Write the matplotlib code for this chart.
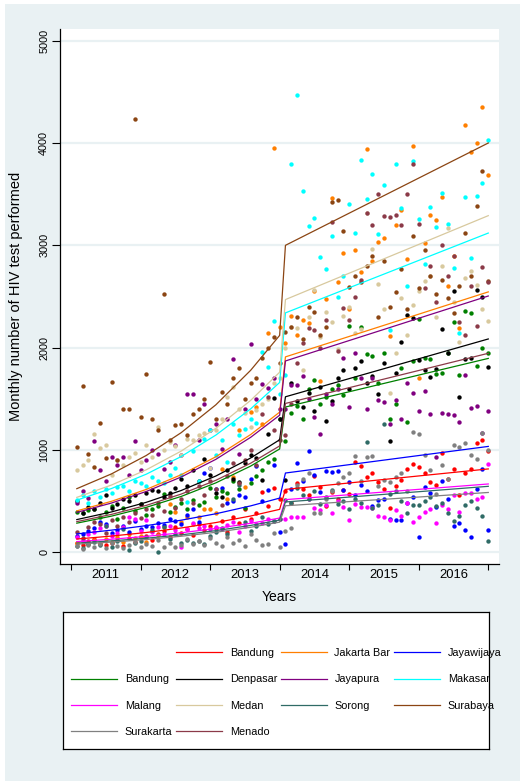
import numpy as np
import matplotlib
matplotlib.use('Agg')
import matplotlib.pyplot as plt
from matplotlib.lines import Line2D
from matplotlib.patches import Rectangle

plt.rcParams['font.family'] = ['Liberation Sans', 'DejaVu Sans']

# monthly index: 1 = Jan 2011 ... 72 = Dec 2016
months = np.arange(1, 73)
years = ['2011', '2012', '2013', '2014', '2015', '2016']

# fitted trend read at these months (pre period 1-36, post period 37-72)
fit_months = [1, 7, 13, 19, 25, 31, 36, 37, 72]

bandung_pts = [90, 75, 110, 130, 85, 70, 95, 120, 60, 140, 105, 150,
               160, 120, 180, 210, 150, 250, 190, 230, 170, 280, 220, 260,
               240, 310, 200, 350, 290, 420, 330, 380, 592, 450, 625, 520,
               600, 480, 680, 619, 560, 749, 641, 452, 590, 520, 610, 567,
               885, 843, 733, 771, 690, 616, 430, 648, 707, 810, 863, 837,
               778, 690, 658, 966, 720, 810, 560, 778, 810, 1071, 1097, 993]
jakarta_pts = [95, 110, 85, 120, 91, 130, 100, 150, 103, 180, 140, 160,
               99, 210, 170, 250, 472, 397, 300, 342, 280, 348, 420, 423,
               380, 819, 520, 739, 1195, 640, 1371, 1423, 1250, 2140, 3950, 2205,
               2050, 2313, 2124, 2270, 2244, 2554, 1674, 2474, 3460, 2645, 2929, 2380,
               2954, 2742, 3944, 2847, 3035, 3068, 2114, 3199, 3345, 2862, 3970, 1707,
               3025, 3296, 3247, 3475, 2600, 2893, 2195, 4179, 3915, 4003, 4352, 3687]
jayawijaya_pts = [160, 179, 210, 234, 299, 277, 190, 220, 260, 200, 309, 230,
                  257, 244, 290, 270, 330, 310, 280, 365, 420, 299, 771, 827,
                  619, 632, 480, 501, 560, 540, 720, 843, 501, 610, 853, 201,
                  78, 620, 876, 700, 993, 760, 586, 795, 788, 790, 610, 690,
                  560, 658, 600, 452, 511, 518, 322, 315, 315, 480, 543, 153,
                  640, 583, 440, 700, 520, 257, 289, 218, 153, 620, 818, 218]
bandung2_pts = [397, 380, 413, 420, 350, 390, 452, 330, 432, 543, 400, 470,
                365, 420, 452, 570, 390, 440, 480, 420, 510, 460, 494, 625,
                540, 600, 580, 700, 620, 430, 680, 750, 804, 885, 910, 1307,
                1090, 1361, 1429, 1299, 1600, 1688, 1450, 1520, 1600, 1634, 1536, 2208,
                1700, 2200, 1937, 1917, 1650, 1944, 1302, 1452, 1800, 1275, 1867, 2277,
                1900, 1886, 1746, 1753, 1950, 2253, 1730, 2355, 2340, 1818, 2000, 1944]
denpasar_pts = [504, 380, 440, 420, 485, 560, 430, 470, 520, 500, 560, 470,
                583, 609, 600, 540, 583, 632, 712, 650, 804, 700, 912, 760,
                583, 543, 800, 720, 688, 870, 950, 925, 706, 1161, 1504, 1300,
                706, 1651, 1480, 1423, 1560, 1380, 1620, 1286, 1478, 1700, 1785, 1600,
                1804, 1870, 1650, 1720, 1547, 1853, 1085, 1750, 2056, 2321, 2291, 1878,
                1781, 1714, 1796, 2181, 1951, 2555, 1520, 1893, 1900, 2563, 2497, 1811]
jayapura_pts = [479, 600, 528, 1087, 804, 700, 928, 850, 928, 760, 1087, 804,
                900, 1000, 960, 818, 880, 1050, 950, 1551, 1547, 1100, 1453, 1200,
                1250, 1013, 1300, 1886, 960, 1400, 2036, 1500, 1648, 1608, 1700, 1400,
                1400, 1635, 1635, 1720, 1500, 1323, 1160, 1550, 1448, 1600, 1900, 1420,
                1951, 1700, 1397, 1707, 1488, 1471, 1258, 1488, 1300, 1650, 1553, 1380,
                1579, 1348, 935, 1358, 1348, 1342, 1273, 1732, 1414, 1433, 1169, 1380]
makasar_pts = [511, 560, 480, 600, 540, 620, 580, 638, 648, 600, 700, 674,
               650, 733, 700, 680, 755, 821, 760, 494, 993, 700, 1103, 1195,
               950, 1100, 885, 1251, 1146, 1202, 1300, 1261, 1958, 1811, 2262, 1550,
               1730, 3799, 4470, 3534, 3190, 3270, 2886, 2766, 3090, 2500, 2700, 3400,
               3124, 3837, 3450, 3697, 3111, 3590, 2170, 3799, 3360, 2600, 3825, 3257,
               2820, 3370, 3180, 3508, 3204, 2783, 2139, 3469, 2879, 3485, 3605, 4026]
malang_pts = [150, 120, 180, 200, 234, 257, 160, 190, 244, 348, 325, 210,
              315, 200, 244, 180, 260, 220, 49, 230, 283, 240, 260, 230,
              244, 225, 270, 300, 200, 257, 310, 276, 290, 322, 310, 322,
              330, 348, 342, 342, 517, 430, 413, 460, 387, 500, 445, 315,
              470, 445, 440, 430, 355, 348, 315, 413, 355, 480, 299, 342,
              397, 423, 289, 462, 420, 560, 397, 575, 580, 520, 543, 863]
medan_pts = [808, 850, 902, 1154, 1015, 1048, 760, 900, 850, 928, 973, 880,
             1050, 928, 1225, 1000, 1080, 1042, 950, 1103, 1100, 1150, 1169, 821,
             1200, 1300, 1519, 1614, 1404, 1364, 1225, 1390, 1450, 1500, 1650, 1700,
             2000, 2204, 2197, 1778, 2300, 2567, 2100, 2350, 2250, 1984, 2306, 2400,
             2140, 2187, 3312, 2961, 2626, 2380, 1557, 1944, 2481, 2124, 2417, 2550,
             2650, 2700, 2296, 2800, 3171, 2450, 2056, 2677, 2750, 2610, 2380, 2262]
sorong_pts = [60, 45, 80, 100, 70, 260, 50, 110, 224, 22, 90, 113,
              150, 218, 0, 250, 130, 180, 90, 120, 94, 113, 78, 160,
              200, 240, 180, 517, 658, 300, 210, 260, 350, 280, 310, 330,
              511, 485, 632, 560, 520, 600, 470, 540, 608, 472, 500, 420,
              520, 480, 1080, 430, 460, 1258, 567, 602, 500, 387, 462, 462,
              504, 540, 450, 480, 380, 309, 355, 462, 501, 430, 355, 113]
surabaya_pts = [1032, 1626, 960, 830, 1260, 921, 1667, 904, 1397, 1400, 4230, 1325,
                1745, 1300, 1200, 2520, 1100, 1244, 1258, 1150, 1350, 1400, 1500, 1860,
                1300, 1566, 1450, 1706, 1800, 1500, 1650, 1700, 1900, 2000, 2100, 1850,
                2150, 2205, 2300, 2089, 2400, 2350, 2124, 2199, 3426, 3440, 3143, 2590,
                2700, 2645, 2800, 2900, 2302, 2847, 2400, 2547, 2773, 2375, 3094, 2580,
                2954, 2700, 2523, 2665, 2490, 2342, 2600, 3118, 2700, 3387, 3727, 2650]
surakarta_pts = [60, 32, 70, 55, 80, 45, 90, 65, 40, 75, 100, 55,
                 85, 60, 120, 50, 95, 55, 70, 130, 80, 110, 75, 140,
                 90, 65, 153, 94, 120, 62, 180, 117, 71, 81, 185, 55,
                 211, 234, 658, 712, 771, 381, 381, 520, 600, 674, 739, 778,
                 941, 700, 934, 941, 650, 706, 690, 733, 778, 600, 1178, 1155,
                 951, 800, 570, 850, 720, 1048, 1032, 1071, 950, 912, 1166, 1000]
menado_pts = [201, 137, 250, 300, 280, 190, 320, 260, 350, 300, 380, 340,
              420, 360, 480, 400, 550, 430, 520, 600, 480, 650, 560, 700,
              620, 462, 750, 870, 680, 900, 1000, 850, 1355, 1519, 1200, 1100,
              1143, 1449, 1851, 2050, 2194, 2172, 2000, 2270, 3228, 1970, 2388, 2274,
              2500, 2665, 3312, 3199, 3504, 3288, 3278, 3296, 3199, 3504, 3791, 3212,
              2586, 2800, 2450, 3000, 2700, 2900, 2253, 2120, 2600, 2208, 2786, 2645]

# fitted values at fit_months
bandung_fit = [130, 159, 194, 238, 291, 355, 420, 615, 815]
jakarta_fit = [405, 499, 615, 758, 934, 1151, 1370, 1910, 2545]
jayawijaya_fit = [180, 217, 261, 314, 377, 454, 530, 775, 1035]
bandung2_fit = [285, 354, 440, 546, 679, 843, 1010, 1420, 1895]
denpasar_fit = [320, 395, 489, 604, 746, 922, 1100, 1520, 2085]
jayapura_fit = [390, 482, 595, 736, 909, 1124, 1340, 1870, 2505]
makasar_fit = [510, 624, 764, 936, 1146, 1402, 1660, 2340, 3120]
malang_fit = [105, 128, 156, 191, 233, 284, 335, 515, 668]
medan_fit = [537, 658, 807, 989, 1212, 1485, 1760, 2470, 3290]
sorong_fit = [90, 112, 138, 171, 212, 263, 315, 492, 645]
surabaya_fit = [622, 767, 947, 1169, 1442, 1779, 2120, 3000, 4000]
surakarta_fit = [80, 100, 125, 157, 196, 245, 295, 455, 585]
menado_fit = [300, 371, 459, 569, 704, 871, 1040, 1455, 1945]

series = [
    ('Bandung', bandung_pts, bandung_fit, '#ff0000'),
    ('Jakarta Bar', jakarta_pts, jakarta_fit, '#ff7f00'),
    ('Jayawijaya', jayawijaya_pts, jayawijaya_fit, '#0000ff'),
    ('Bandung', bandung2_pts, bandung2_fit, '#008000'),
    ('Denpasar', denpasar_pts, denpasar_fit, '#000000'),
    ('Jayapura', jayapura_pts, jayapura_fit, '#800080'),
    ('Makasar', makasar_pts, makasar_fit, '#00ffff'),
    ('Malang', malang_pts, malang_fit, '#ff00ff'),
    ('Medan', medan_pts, medan_fit, '#d8c99e'),
    ('Sorong', sorong_pts, sorong_fit, '#2f6b66'),
    ('Surabaya', surabaya_pts, surabaya_fit, '#8b4513'),
    ('Surakarta', surakarta_pts, surakarta_fit, '#808080'),
    ('Menado', menado_pts, menado_fit, '#8b3a48'),
]

BG = '#e9f1f3'
W, H = 520, 781

fig = plt.figure(figsize=(W / 100, H / 100), dpi=100)
fig.patch.set_facecolor('white')
fig.add_artist(Rectangle((5 / W, 0), 1, (H - 4) / H, transform=fig.transFigure,
                         facecolor=BG, edgecolor='none', zorder=-5))

ax = fig.add_axes([60 / W, 1 - 564 / H, 439 / W, 535 / H])
ax.set_facecolor('white')

for name, pts, fit, col in series:
    ax.scatter(months, pts, s=10, color=col, linewidths=0, zorder=2)
for name, pts, fit, col in series:
    ax.plot(fit_months, fit, color=col, lw=0.9, zorder=3)

ax.set_xlim(-1.9, 73.85)
ax.set_ylim(-114, 5114)

ax.set_yticks(range(0, 6000, 1000))
ax.yaxis.grid(True, color=BG, lw=1.6)
ax.set_axisbelow(True)
ax.tick_params(axis='y', labelrotation=90, labelsize=7.8, length=5.8, width=0.8, pad=2)
for lab in ax.get_yticklabels():
    lab.set_va('center')

ax.set_xticks(range(0, 73, 12))
ax.set_xticklabels([])
ax.set_xticks(np.arange(6, 72, 12), minor=True)
ax.set_xticklabels(years, minor=True)
ax.tick_params(axis='x', which='major', length=4.5, width=0.8)
ax.tick_params(axis='x', which='minor', length=0, labelsize=9.4, pad=3.5)

ax.spines[['top', 'right']].set_visible(False)
ax.spines['left'].set_linewidth(0.9)
ax.spines['bottom'].set_linewidth(0.9)

ax.set_xlabel('Years', fontsize=10)
ax.xaxis.set_label_coords(0.5, -0.049)
ax.set_ylabel('Monthly number of HIV test performed', fontsize=10.5)
ax.yaxis.set_label_coords(-0.085, 0.5)

# legend box
lax = fig.add_axes([63 / W, 1 - 749 / H, 426 / W, 137 / H])
lax.set_xticks([])
lax.set_yticks([])
for sp in lax.spines.values():
    sp.set_linewidth(0.9)

handles = [Line2D([], [], color='none')]
labels = ['']
for name, pts, fit, col in series:
    handles.append(Line2D([], [], color=col, lw=0.9))
    labels.append(name)
# legend fills column by column, reorder so it reads row by row
order = [0, 4, 8, 12, 1, 5, 9, 13, 2, 6, 10, 3, 7, 11]
lax.legend([handles[i] for i in order], [labels[i] for i in order],
           ncol=4, fontsize=7.8, frameon=False, loc='center left',
           bbox_to_anchor=(8 / 426, 0.412), borderpad=0, borderaxespad=0,
           handlelength=4.25, handletextpad=0.7, columnspacing=0.35,
           labelspacing=1.5)

fig.savefig('out.png', dpi=100, facecolor=fig.get_facecolor())
